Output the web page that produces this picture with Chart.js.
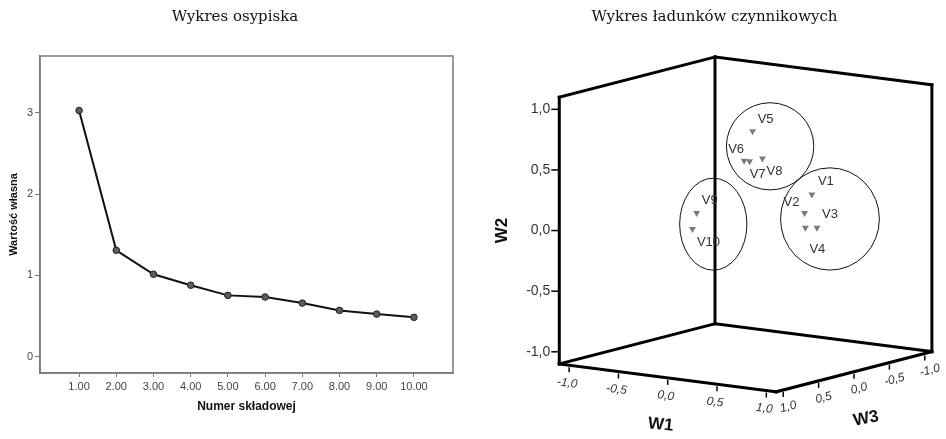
<!DOCTYPE html>
<html lang="pl">
<head>
<meta charset="utf-8">
<title>Wykres osypiska i wykres ładunków czynnikowych</title>
<script src="https://cdn.jsdelivr.net/npm/chart.js@4.4.1/dist/chart.umd.min.js"></script>
<style>
html, body { margin: 0; padding: 0; background: #fff; }
#wrap { position: relative; width: 946px; height: 439px; overflow: hidden; }
#wrap canvas { position: absolute; top: 0; }
</style>
</head>
<body>
<div id="wrap">
  <canvas id="scree" width="470" height="439" style="left:0"></canvas>
  <canvas id="loadings" width="473" height="439" style="left:473px"></canvas>
</div>
<script>
// ---- Scree plot: eigenvalue of each component ----
const components = [1, 2, 3, 4, 5, 6, 7, 8, 9, 10];
const eigenvalues = [3.03, 1.31, 1.015, 0.88, 0.755, 0.735, 0.66, 0.57, 0.525, 0.485];
const eigenTicks = [0, 1, 2, 3];

// ---- Component loadings of the ten variables on W1, W2, W3 ----
const variables = ['V1', 'V2', 'V3', 'V4', 'V5', 'V6', 'V7', 'V8', 'V9', 'V10'];
const loadW1 = [0.78, 0.67, 0.76, 0.75, 0.15, 0.10, 0.12, 0.20, 0.10, 0.05];
const loadW2 = [0.35, 0.18, 0.06, 0.08, 0.80, 0.56, 0.55, 0.57, 0.23, 0.09];
const loadW3 = [0.15, 0.10, 0.05, 0.20, 0.11, 0.16, 0.11, 0.04, 0.83, 0.82];
const loadingTicks = [-1, -0.5, 0, 0.5, 1];
const loadingLimit = 1.1;

const SANS = '"Liberation Sans", Arial, sans-serif';
const SERIF = '"DejaVu Serif", "Liberation Serif", serif';

// Oblique projection of the (W1, W2, W3) cube onto the page plane
const AXIS_W1 = { u: 0.812, v: -0.1045 };
const AXIS_W3 = { u: -0.583, v: -0.1506 };
function project(w1, w2, w3) {
  return { x: w1 * AXIS_W1.u + w3 * AXIS_W3.u, y: w2 + w1 * AXIS_W1.v + w3 * AXIS_W3.v };
}
const fmtComma = v => v.toFixed(1).replace('.', ',');

// Heading above each panel
const panelTitle = {
  id: 'panelTitle',
  afterDraw(chart, args, opts) {
    const ctx = chart.ctx;
    ctx.save();
    ctx.font = '15px ' + SERIF;
    ctx.fillStyle = '#111';
    ctx.textAlign = 'center';
    ctx.textBaseline = 'alphabetic';
    ctx.fillText(opts.text, opts.x, opts.y);
    ctx.restore();
  }
};

// Closed frame round the scree plot area
const plotFrame = {
  id: 'plotFrame',
  beforeDatasetsDraw(chart) {
    const { ctx, chartArea: a } = chart;
    ctx.save();
    ctx.strokeStyle = '#7a7a7a';
    ctx.lineWidth = 1.5;
    ctx.strokeRect(a.left, a.top, a.right - a.left, a.bottom - a.top);
    ctx.restore();
  }
};

new Chart(document.getElementById('scree'), {
  type: 'line',
  data: {
    datasets: [{
      data: components.map((c, i) => ({ x: c, y: eigenvalues[i] })),
      borderColor: '#111',
      borderWidth: 2,
      pointRadius: 3.3,
      pointBackgroundColor: '#5c5c5c',
      pointBorderColor: '#222',
      pointBorderWidth: 1,
      tension: 0
    }]
  },
  options: {
    responsive: false,
    animation: false,
    devicePixelRatio: 1,
    layout: { padding: { left: 0, top: 56, right: 17, bottom: 0 } },
    plugins: {
      legend: { display: false },
      tooltip: { enabled: false },
      panelTitle: { text: 'Wykres osypiska', x: 235, y: 21 }
    },
    scales: {
      x: {
        type: 'linear',
        min: -0.05,
        max: 11.05,
        afterBuildTicks: s => { s.ticks = components.map(v => ({ value: v })); },
        afterFit: s => { s.height = 66; },
        ticks: {
          callback: v => Number(v).toFixed(2),
          color: '#444',
          font: { family: SANS, size: 11 },
          padding: 3,
          maxRotation: 0,
          autoSkip: false
        },
        grid: { display: true, drawOnChartArea: false, drawTicks: true, tickLength: 4, color: '#777', lineWidth: 1 },
        border: { display: true, color: '#7a7a7a', width: 1.5 },
        title: {
          display: true,
          text: 'Numer składowej',
          color: '#111',
          font: { family: SANS, size: 12, weight: 'bold' },
          padding: { top: 4, bottom: 25 }
        }
      },
      y: {
        type: 'linear',
        min: -0.2,
        max: 3.7,
        afterBuildTicks: s => { s.ticks = eigenTicks.map(v => ({ value: v })); },
        afterFit: s => { s.width = 40; },
        ticks: {
          callback: v => String(v),
          color: '#444',
          font: { family: SANS, size: 11 },
          padding: 2
        },
        grid: { display: true, drawOnChartArea: false, drawTicks: true, tickLength: 5, color: '#777', lineWidth: 1 },
        border: { display: true, color: '#7a7a7a', width: 1.5 },
        title: {
          display: true,
          text: 'Wartość własna',
          color: '#111',
          font: { family: SANS, size: 11, weight: 'bold' },
          padding: { top: 7, bottom: 4 }
        }
      }
    }
  },
  plugins: [panelTitle, plotFrame]
});

// ---- 3D loading plot ----
const VIEW = { ox: 273.2, oy: 224.5, k: 123.5, w: 473, h: 439 };

function drawText(ctx, text, x, y, angle, font, color) {
  ctx.save();
  ctx.translate(x, y);
  ctx.rotate(angle);
  ctx.font = font;
  ctx.fillStyle = color;
  ctx.textAlign = 'center';
  ctx.textBaseline = 'middle';
  ctx.fillText(text, 0, 0);
  ctx.restore();
}

const loadingCube = {
  id: 'loadingCube',
  beforeDatasetsDraw(chart, args, opts) {
    const { ctx, scales: { x, y } } = chart;
    const R = loadingLimit;
    const px = (w1, w2, w3) => { const p = project(w1, w2, w3); return { x: x.getPixelForValue(p.x), y: y.getPixelForValue(p.y) }; };
    const unit = x.getPixelForValue(1) - x.getPixelForValue(0);

    // cube edges: two back walls and the floor
    const edges = [
      [[-R, -R, R], [-R, R, R]],
      [[-R, -R, -R], [-R, R, -R]],
      [[R, -R, -R], [R, R, -R]],
      [[-R, R, R], [-R, R, -R]],
      [[-R, R, -R], [R, R, -R]],
      [[-R, -R, R], [R, -R, R]],
      [[R, -R, R], [R, -R, -R]],
      [[-R, -R, R], [-R, -R, -R]],
      [[-R, -R, -R], [R, -R, -R]]
    ];
    ctx.save();
    ctx.strokeStyle = '#000';
    ctx.lineWidth = 3;
    ctx.lineCap = 'square';
    edges.forEach(([a, b]) => {
      const p = px(...a), q = px(...b);
      ctx.beginPath();
      ctx.moveTo(p.x, p.y);
      ctx.lineTo(q.x, q.y);
      ctx.stroke();
    });

    const tickFont = '14px ' + SANS;
    const slantFont = 'italic 12px ' + SANS;
    ctx.lineWidth = 1.5;
    ctx.lineCap = 'butt';

    // W2 ticks on the front vertical edge
    loadingTicks.forEach(t => {
      const p = px(-R, t, R);
      ctx.beginPath(); ctx.moveTo(p.x - 8, p.y); ctx.lineTo(p.x, p.y); ctx.stroke();
      ctx.font = tickFont; ctx.fillStyle = '#333';
      ctx.textAlign = 'right'; ctx.textBaseline = 'middle';
      ctx.fillText(fmtComma(t), p.x - 9, p.y);
    });

    // W1 ticks along the front-left floor edge
    const a1 = px(-1, -R, R), b1 = px(1, -R, R);
    const ang1 = Math.atan2(b1.y - a1.y, b1.x - a1.x);
    loadingTicks.forEach(t => {
      const p = px(t, -R, R);
      ctx.beginPath(); ctx.moveTo(p.x, p.y + 2); ctx.lineTo(p.x, p.y + 7); ctx.stroke();
      drawText(ctx, fmtComma(t), p.x - 2, p.y + 18, ang1, slantFont, '#333');
    });

    // W3 ticks along the front-right floor edge (values fall towards the back)
    const a3 = px(R, -R, 1), b3 = px(R, -R, -1);
    const ang3 = Math.atan2(b3.y - a3.y, b3.x - a3.x);
    loadingTicks.forEach(t => {
      const p = px(R, -R, t);
      ctx.beginPath(); ctx.moveTo(p.x, p.y + 2); ctx.lineTo(p.x, p.y + 7); ctx.stroke();
      drawText(ctx, fmtComma(t), p.x + 5, p.y + 17, ang3, slantFont, '#333');
    });

    // axis names
    const titleFont = 'bold 17px ' + SANS;
    const m1 = px(0, -R, R), m3 = px(R, -R, 0), m2 = px(-R, 0, R);
    drawText(ctx, 'W1', m1.x - 7, m1.y + 47, ang1 * 0.8, titleFont, '#111');
    drawText(ctx, 'W3', m3.x + 12, m3.y + 47, ang3 * 0.8, titleFont, '#111');
    drawText(ctx, 'W2', m2.x - 57, m2.y, -Math.PI / 2, titleFont, '#111');

    // rings marking the three groups of variables
    ctx.lineWidth = 1;
    ctx.strokeStyle = '#111';
    opts.rings.forEach(r => {
      ctx.beginPath();
      ctx.ellipse(x.getPixelForValue(r.u), y.getPixelForValue(r.v), r.ru * unit, r.rv * unit, 0, 0, Math.PI * 2);
      ctx.stroke();
    });
    ctx.restore();
  },
  afterDatasetsDraw(chart, args, opts) {
    const ctx = chart.ctx;
    const meta = chart.getDatasetMeta(0);
    ctx.save();
    ctx.font = '13px ' + SANS;
    ctx.fillStyle = '#333';
    ctx.textAlign = 'center';
    ctx.textBaseline = 'middle';
    meta.data.forEach((pt, i) => {
      const off = opts.labelOffsets[i];
      ctx.fillText(variables[i], pt.x + off[0], pt.y + off[1]);
    });
    ctx.restore();
  }
};

new Chart(document.getElementById('loadings'), {
  type: 'scatter',
  data: {
    datasets: [{
      data: variables.map((v, i) => project(loadW1[i], loadW2[i], loadW3[i])),
      pointStyle: 'triangle',
      rotation: 180,
      pointRadius: 4,
      backgroundColor: '#7b7b7b',
      borderColor: '#7b7b7b',
      borderWidth: 0
    }]
  },
  options: {
    responsive: false,
    animation: false,
    devicePixelRatio: 1,
    layout: { padding: 0 },
    plugins: {
      legend: { display: false },
      tooltip: { enabled: false },
      panelTitle: { text: 'Wykres ładunków czynnikowych', x: 241.5, y: 21 },
      loadingCube: {
        rings: [
          { u: -0.266, v: 0.002, ru: 0.277, rv: 0.379 },
          { u: 0.202, v: 0.644, ru: 0.360, rv: 0.359 },
          { u: 0.695, v: 0.045, ru: 0.407, rv: 0.421 }
        ],
        labelOffsets: [[14, -13], [-13, -10], [13, -13], [12, 22], [13, -12], [-8, -11], [8, 13], [12, 13], [13, -13], [16, 13]]
      }
    },
    scales: {
      x: { type: 'linear', display: false, min: -VIEW.ox / VIEW.k, max: (VIEW.w - VIEW.ox) / VIEW.k },
      y: { type: 'linear', display: false, min: -(VIEW.h - VIEW.oy) / VIEW.k, max: VIEW.oy / VIEW.k }
    }
  },
  plugins: [panelTitle, loadingCube]
});
</script>
</body>
</html>
